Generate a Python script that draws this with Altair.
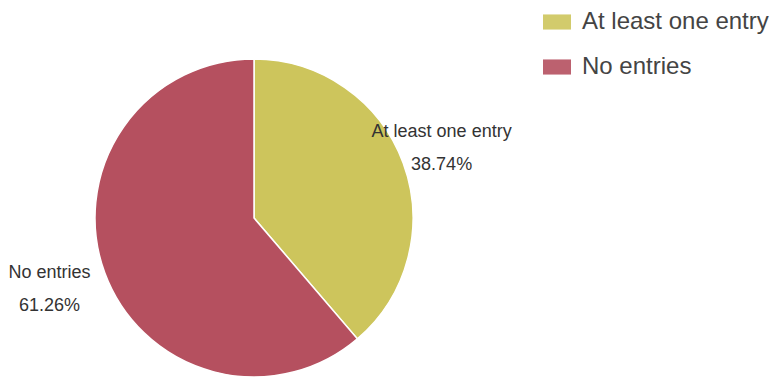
import altair as alt
import pandas as pd

categories = ["At least one entry", "No entries"]
shares = [38.74, 61.26]
labels = ["38.74%", "61.26%"]
colors = ["#cdc55c", "#b5505f"]

df = pd.DataFrame({"category": categories, "share": shares, "pct": labels,
                   "order": [0, 1]})

base = alt.Chart(df).encode(
    theta=alt.Theta("share:Q", stack=True),
    order=alt.Order("order:Q"),
)

color = alt.Color(
    "category:N",
    scale=alt.Scale(domain=categories, range=colors),
    legend=alt.Legend(
        title=None, orient="none", legendX=543, legendY=8,
        labelFontSize=24, labelFont="Liberation Sans", labelColor="#444",
        labelLimit=0,
        symbolType="M-1,-0.54H1V0.54H-1Z", symbolSize=784,
        symbolStrokeWidth=0, labelOffset=11, rowPadding=19,
        symbolOpacity=0.9,
    ),
)

pie = base.mark_arc(stroke="white", strokeWidth=1.5).encode(
    color=color,
    x=alt.value(254), y=alt.value(218),
    radius=alt.value(159),
)

labelled = alt.Chart(df).transform_joinaggregate(
    total="sum(share)"
).transform_window(
    cum="sum(share)", sort=[alt.SortField("order")]
).transform_calculate(
    mid="(datum.cum - datum.share / 2) / datum.total",
    lab="datum.category + '\\n' + datum.pct",
)


def label_layer(cat, r, dy):
    return labelled.transform_filter(
        alt.datum.category == cat
    ).mark_text(
        lineBreak="\n", fontSize=18, font="Liberation Sans", color="#333",
        lineHeight=33, align="center", baseline="middle", dy=dy,
    ).encode(
        theta=alt.Theta("mid:Q", scale=alt.Scale(domain=[0, 1])),
        text="lab:N",
        x=alt.value(254), y=alt.value(218),
        radius=alt.value(r),
    )


text1 = label_layer(categories[0], 200, -17)
text2 = label_layer(categories[1], 218, -21)

chart = alt.layer(pie, text1, text2).resolve_scale(theta="independent").properties(
    width=781, height=383, padding=0, autosize=alt.AutoSizeParams(type="none")
).configure_view(stroke=None)

chart.save("out.html", embed_options={"renderer": "svg", "actions": False})
